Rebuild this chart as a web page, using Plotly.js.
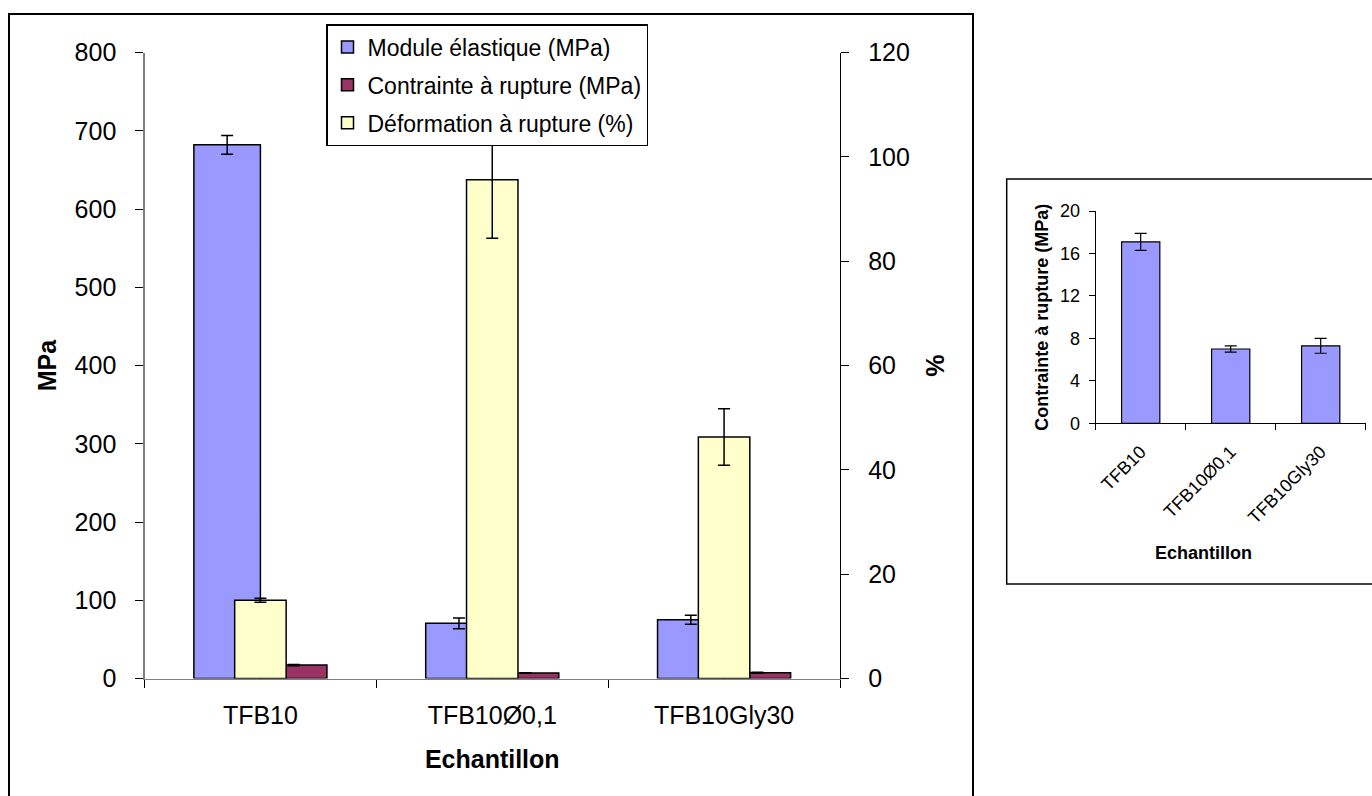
<!DOCTYPE html>
<html>
<head>
<meta charset="utf-8">
<script src="https://cdn.plot.ly/plotly-3.0.1.min.js"></script>
<style>
  html, body { margin: 0; padding: 0; background: #fff; }
  #chart { width: 1372px; height: 796px; }
</style>
</head>
<body>
<div id="chart"></div>
<script>
// ---- Data ----
const categories = ['TFB10', 'TFB10\u00D80,1', 'TFB10Gly30'];
const seriesNames = ['Module \u00E9lastique (MPa)', 'Contrainte \u00E0 rupture (MPa)', 'D\u00E9formation \u00E0 rupture (%)'];
const moduleVals = [682, 70.5, 75];
const moduleErr = [12, 6.8, 5.8];
const contrainteVals = [17.1, 7.0, 7.3];
const contrainteErr = [0.8, 0.3, 0.7];
const deformVals = [15.0, 95.6, 46.3];
const deformErr = [0.4, 11.2, 5.4];

const FONT = 'Liberation Sans, Arial, sans-serif';
const W = 1372, H = 796;
const px = v => v / W;
const py = v => 1 - v / H;

const errStyle = (arr) => ({type: 'data', array: arr, visible: true, color: '#000', thickness: 1.5, width: 6});

const traces = [
  {
    type: 'bar', name: seriesNames[0], x: categories, y: moduleVals,
    xaxis: 'x', yaxis: 'y', offset: -0.287, width: 0.287,
    marker: {color: '#9999FF', line: {color: '#000', width: 1.5}},
    error_y: errStyle(moduleErr), legendgroup: 'g1'
  },
  {
    type: 'bar', name: seriesNames[1], x: categories, y: contrainteVals,
    xaxis: 'x', yaxis: 'y', offset: 0, width: 0.287,
    marker: {color: '#993366', line: {color: '#000', width: 1.5}},
    error_y: errStyle(contrainteErr), legendgroup: 'g2'
  },
  {
    type: 'bar', name: seriesNames[2], x: categories, y: deformVals,
    xaxis: 'x', yaxis: 'y2', offset: -0.111, width: 0.222,
    marker: {color: '#FFFFCC', line: {color: '#000', width: 1.5}},
    error_y: errStyle(deformErr), legendgroup: 'g3'
  },
  {
    type: 'bar', name: seriesNames[1], x: categories, y: contrainteVals,
    xaxis: 'x2', yaxis: 'y3', width: 0.425, showlegend: false,
    marker: {color: '#9999FF', line: {color: '#000', width: 1.2}},
    error_y: {type: 'data', array: contrainteErr, visible: true, color: '#000', thickness: 1.2, width: 6}
  }
];

const axisFont = {family: FONT, size: 25, color: '#000'};
const titleFont = {family: FONT, size: 25, color: '#000', weight: 'bold'};
const smallFont = {family: FONT, size: 18, color: '#000'};
const smallTitle = {family: FONT, size: 18, color: '#000', weight: 'bold'};

const layout = {
  width: W, height: H,
  margin: {l: 0, r: 0, t: 0, b: 0},
  paper_bgcolor: '#fff', plot_bgcolor: 'rgba(0,0,0,0)',
  barmode: 'overlay',
  font: {family: FONT, color: '#000'},
  showlegend: true,
  legend: {
    x: px(326), y: py(24), xanchor: 'left', yanchor: 'top',
    bgcolor: '#fff', bordercolor: '#000', borderwidth: 1.5,
    font: {family: FONT, size: 23, color: '#000'},
    traceorder: 'grouped', tracegroupgap: 5
  },
  xaxis: {
    domain: [px(144.5), px(840)], anchor: 'y',
    type: 'category', tickson: 'boundaries',
    ticks: 'outside', ticklen: 8, tickcolor: '#000', tickwidth: 1,
    showline: true, linecolor: '#808080', linewidth: 1.2,
    showgrid: false, zeroline: false,
    tickfont: axisFont, ticklabelstandoff: 14,
    title: {text: 'Echantillon', font: titleFont, standoff: 22},
    automargin: false, fixedrange: true
  },
  yaxis: {
    domain: [py(678.5), py(52.5)], anchor: 'x',
    range: [0, 800], tickmode: 'linear', tick0: 0, dtick: 100,
    ticks: 'outside', ticklen: 8, tickcolor: '#000', tickwidth: 1,
    showline: true, linecolor: '#808080', linewidth: 1.2,
    showgrid: false, zeroline: false,
    tickfont: axisFont, ticklabelstandoff: 14,
    title: {text: 'MPa', font: titleFont, standoff: 10},
    automargin: false, fixedrange: true
  },
  yaxis2: {
    overlaying: 'y', side: 'right', anchor: 'x',
    range: [0, 120], tickmode: 'linear', tick0: 0, dtick: 20,
    ticks: 'outside', ticklen: 8, tickcolor: '#000', tickwidth: 1,
    showline: true, linecolor: '#000', linewidth: 1.2,
    showgrid: false, zeroline: false,
    tickfont: axisFont, ticklabelstandoff: 14,
    title: {text: '%', font: titleFont, standoff: 17},
    automargin: false, fixedrange: true
  },
  yaxis4: {
    overlaying: 'y', side: 'right', anchor: 'x',
    range: [0, 120], tickmode: 'linear', tick0: 0, dtick: 20,
    ticks: 'inside', ticklen: 8, tickcolor: '#000', tickwidth: 1,
    showline: false, showgrid: false, zeroline: false, showticklabels: false,
    automargin: false, fixedrange: true
  },
  xaxis2: {
    domain: [px(1095.7), px(1365.7)], anchor: 'y3',
    type: 'category', tickson: 'boundaries',
    ticks: 'outside', ticklen: 6, tickcolor: '#000', tickwidth: 1,
    showline: true, linecolor: '#000', linewidth: 1,
    showgrid: false, zeroline: false,
    tickfont: smallFont, tickangle: -45, ticklabelstandoff: 10,
    automargin: false, fixedrange: true
  },
  yaxis3: {
    domain: [py(423.3), py(211)], anchor: 'x2',
    range: [0, 20], tickmode: 'linear', tick0: 0, dtick: 4,
    ticks: 'outside', ticklen: 6, tickcolor: '#000', tickwidth: 1,
    showline: true, linecolor: '#000', linewidth: 1,
    showgrid: false, zeroline: false,
    tickfont: smallFont, ticklabelstandoff: 5,
    title: {text: 'Contrainte \u00E0 rupture (MPa)', font: smallTitle, standoff: 6},
    automargin: false, fixedrange: true
  },
  annotations: [
    {text: 'Echantillon', xref: 'paper', yref: 'paper', x: px(1203), y: py(553),
     xanchor: 'center', yanchor: 'middle', showarrow: false, font: smallTitle}
  ],
  shapes: [
    {type: 'rect', xref: 'paper', yref: 'paper', x0: px(9), x1: px(973), y0: py(14), y1: -0.05,
     line: {color: '#000', width: 2}, fillcolor: 'rgba(0,0,0,0)', layer: 'below'},
    {type: 'rect', xref: 'paper', yref: 'paper', x0: px(1006.7), x1: px(1385), y0: py(179), y1: py(584),
     line: {color: '#000', width: 1.5}, fillcolor: 'rgba(0,0,0,0)', layer: 'below'}
  ]
};

Plotly.newPlot('chart', traces, layout, {staticPlot: true, displayModeBar: false});
</script>
</body>
</html>
